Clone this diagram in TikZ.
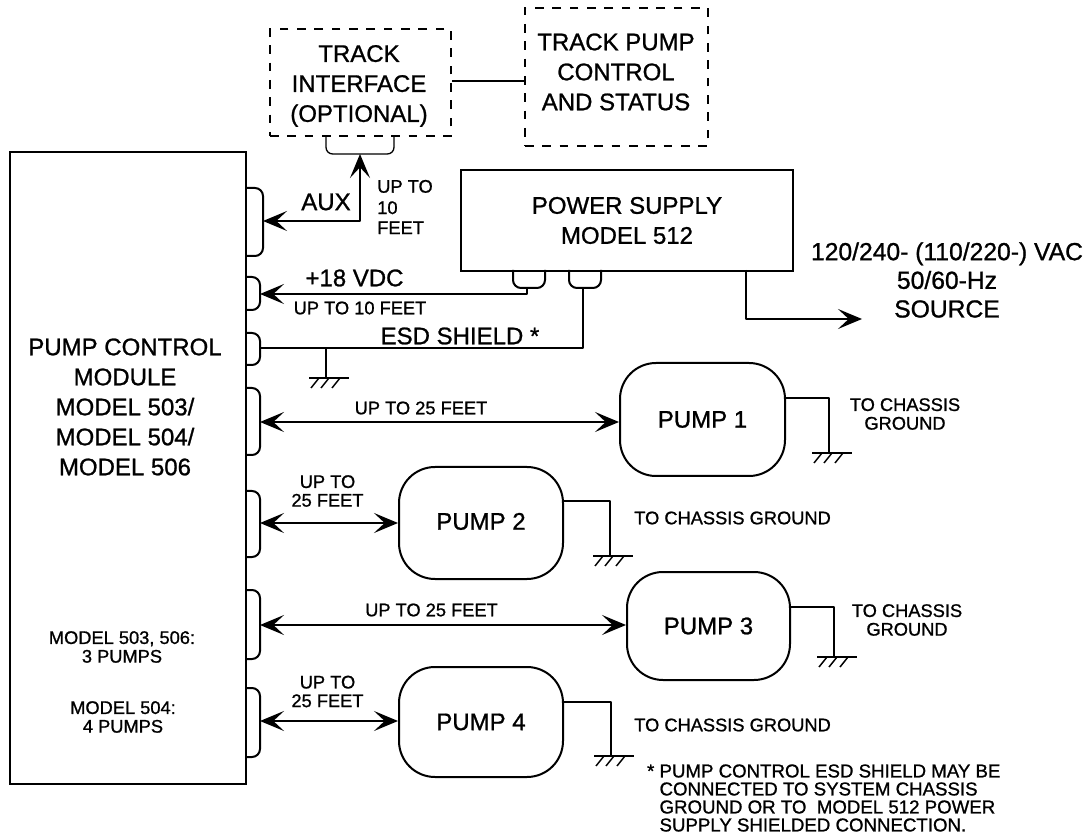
\documentclass[tikz,border=0pt]{standalone}
\usepackage{fontspec}
\setmainfont{Liberation Sans}[RawFeature={embolden=1}]
\usetikzlibrary{arrows.meta}
\tikzset{
  >={Stealth[length=18pt,width=15pt,inset=8pt]},
  wire/.style={line width=1.5pt,line join=round},
  thinwire/.style={line width=1.1pt},
  bump/.style={line width=1.5pt,rounded corners=6pt},
  solidbox/.style={draw,line width=1.5pt,inner sep=0pt,align=center,font=\mainsz},
  pumpbox/.style={solidbox,rounded corners=27pt,minimum width=164*0.75pt},
  dashbox/.style={draw,line width=1.9pt,dash pattern=on 6.5pt off 6.5pt,inner sep=0pt},
  lab/.style={inner sep=0pt,align=center,font=\mainsz},
  small/.style={inner sep=0pt,align=center,font=\smallsz},
  smallleft/.style={inner sep=0pt,align=left,font=\smallsz},
}
\newcommand{\mainsz}{\fontsize{18}{22.5}\selectfont}
\newcommand{\smallsz}{\fontsize{13.7}{14}\selectfont}
\newcommand{\gndsym}[2]{%
  \draw[thinwire] (#1-17,#2) -- (#1+23,#2);
  \foreach \d in {-7,3,14} \draw[thinwire] (#1+\d,#2) -- (#1+\d-8,#2+10);
}
\begin{document}
\begin{tikzpicture}[x=0.75pt,y=-0.75pt]
\useasboundingbox (0,0) rectangle (1085,837);
% main boxes
\node[solidbox,minimum width=236*0.75pt,minimum height=632*0.75pt] (mod) at (128,468) {};
\node[lab] (modtxt) at (125,407) {PUMP CONTROL\\MODULE\\MODEL 503/\\MODEL 504/\\MODEL 506};
\node[small] (m1) at (122,647) {MODEL 503, 506:\\3 PUMPS};
\node[small] (m2) at (123,717) {MODEL 504:\\4 PUMPS};
\node[dashbox,minimum width=181*0.75pt,minimum height=107*0.75pt] (ti) at (360.5,82.5) {};
\node[lab] (titxt) at (359,86) {TRACK\\INTERFACE\\(OPTIONAL)};
\node[dashbox,minimum width=183*0.75pt,minimum height=138*0.75pt] (tp) at (616.5,77) {};
\node[lab] (tptxt) at (616,72) {TRACK PUMP\\CONTROL\\AND STATUS};
\node[solidbox,minimum width=332*0.75pt,minimum height=101*0.75pt] (ps) at (627,220.5) {POWER SUPPLY\\MODEL 512};
\node[pumpbox,minimum width=165*0.75pt,minimum height=113*0.75pt] (p1) at (702.5,419.5) {PUMP 1};
\node[pumpbox,minimum height=112*0.75pt] (p2) at (481,523) {\raisebox{2.5pt}{PUMP 2}};
\node[pumpbox,minimum width=163*0.75pt,minimum height=108*0.75pt] (p3) at (708.5,626) {PUMP 3};
\node[pumpbox,minimum height=110*0.75pt] (p4) at (481,722) {PUMP 4};
% connector bumps on the module
\draw[bump] (246,188) -- (263,188) -- (263,256) -- (246,256);
\draw[bump] (246,277) -- (260,277) -- (260,310) -- (246,310);
\draw[bump] (246,333) -- (260,333) -- (260,365) -- (246,365);
\draw[bump] (246,388) -- (260,388) -- (260,455) -- (246,455);
\draw[bump] (246,491) -- (260,491) -- (260,557) -- (246,557);
\draw[bump] (246,590) -- (260,590) -- (260,659) -- (246,659);
\draw[bump] (246,688) -- (260,688) -- (260,757) -- (246,757);
% bumps on power supply and interface
\draw[bump] (513,270) -- (513,288) -- (545,288) -- (545,270);
\draw[bump] (569,270) -- (569,288) -- (601,288) -- (601,270);
\draw[line width=1pt,rounded corners=5pt] (326,137) -- (326,154) -- (394,154) -- (394,137);
% named connector ends
\coordinate (aux) at (263,221);
\coordinate (auxup) at (360,154);
\coordinate (v18) at (260,294);
\coordinate (v18b) at (527,288);
\coordinate (esd) at (260,348);
\coordinate (esdb) at (583,288);
\coordinate (g0) at (326,378);
\coordinate (g0t) at (326,348);
\coordinate (ac0) at (746,270);
\coordinate (ac1) at (862,319);
% connectors
\draw[wire] (ti.east |- 0,81) -- (tp.west |- 0,81);
\draw[wire,<->] (aux) -| (auxup);
\draw[wire,<-] (v18) -- (527,294) -- (v18b);
\draw[wire] (esd) -- (583,348) -- (esdb);
\draw[thinwire] (g0t) -- (g0);
\gndsym{326}{378}
\draw[wire,->] (ac0) |- (ac1);
\draw[wire,<->] (260,422) -- (p1.west |- 0,422);
\draw[wire,<->] (260,523) -- (p2.west |- 0,523);
\draw[wire,<->] (260,625) -- (p3.west |- 0,625);
\draw[wire,<->] (260,721) -- (p4.west |- 0,721);
\draw[wire] (p1.east |- 0,398) -- (829,398) -- (829,453);
\gndsym{829}{453}
\draw[wire] (p2.east |- 0,501) -- (610,501) -- (610,556);
\gndsym{610}{556}
\draw[wire] (p3.east |- 0,607) -- (834,607) -- (834,657);
\gndsym{834}{657}
\draw[wire] (p4.east |- 0,702) -- (611,702) -- (611,756);
\gndsym{611}{756}
% labels
\node[lab] (laux) at (326,202) {AUX};
\node[smallleft,anchor=west] (l10) at (377,207) {UP TO\\[2pt]10\\[1pt]FEET};
\node[lab] (l18) at (354.5,278) {+18 VDC};
\node[small] (l10f) at (360,308) {UP TO 10 FEET};
\node[lab] (lesd) at (460,336) {ESD SHIELD *};
\node[small] (u1) at (421,408) {UP TO 25 FEET};
\node[small] (u2) at (327.5,491) {UP TO\\25 FEET};
\node[small] (u3) at (431.5,610) {UP TO 25 FEET};
\node[small] (u4) at (327.5,691.5) {UP TO\\25 FEET};
\node[small] (c1) at (905,414) {TO CHASSIS\\GROUND};
\node[smallleft,anchor=west] (c2) at (634,518) {TO CHASSIS GROUND};
\node[small] (c3) at (907,620) {TO CHASSIS\\GROUND};
\node[smallleft,anchor=west] (c4) at (634,725) {TO CHASSIS GROUND};
\node[lab,font=\fontsize{18.5}{21.5}\selectfont] (src) at (947,280) {120/240- (110/220-) VAC\\50/60-Hz\\SOURCE};
\node[smallleft,font=\fontsize{14}{13.5}\selectfont] (note) at (830,798) {\llap{*\ }PUMP CONTROL ESD SHIELD MAY BE\\CONNECTED TO SYSTEM CHASSIS\\GROUND OR TO\ \ MODEL 512 POWER\\SUPPLY SHIELDED CONNECTION.};
\end{tikzpicture}
\end{document}
